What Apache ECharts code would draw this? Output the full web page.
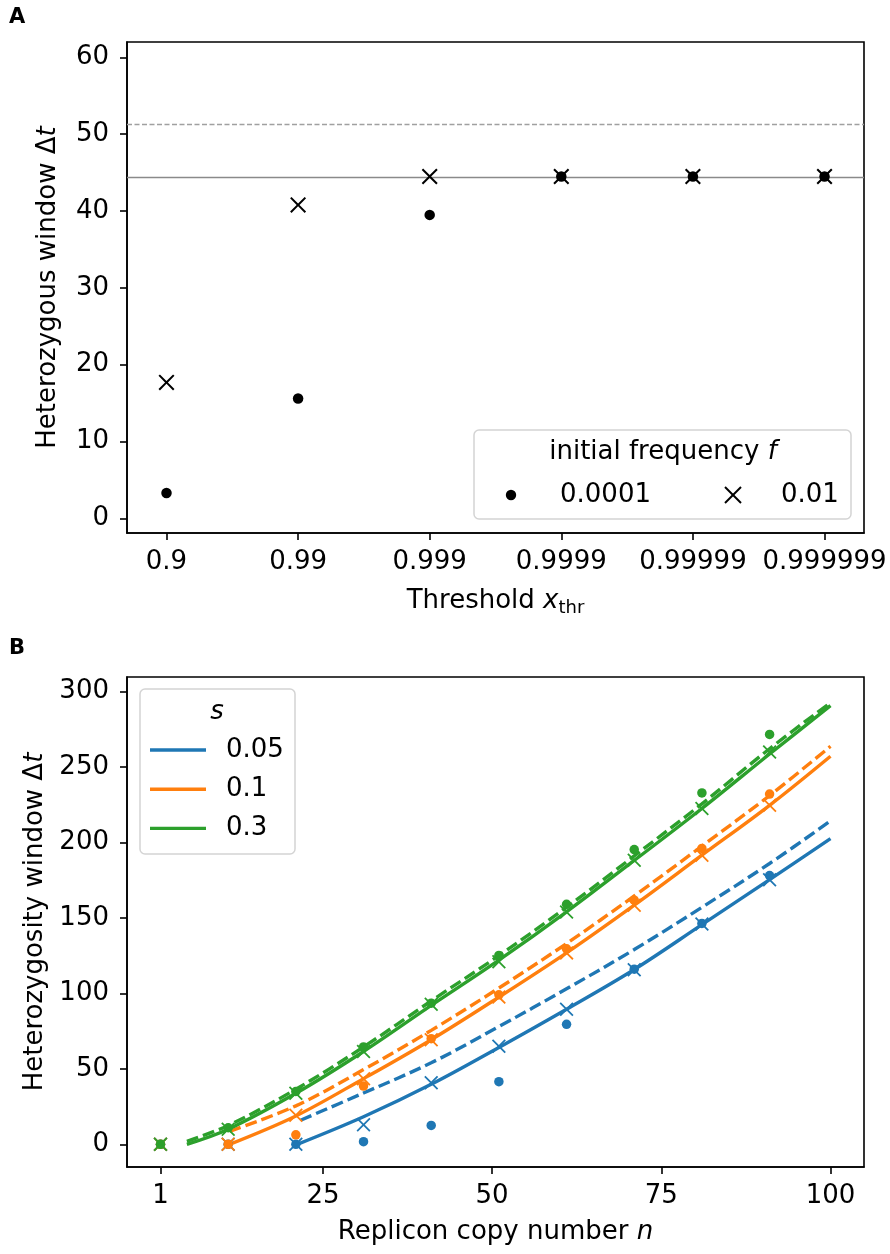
<!DOCTYPE html>
<html>
<head>
<meta charset="utf-8">
<script src="https://cdn.jsdelivr.net/npm/echarts@6/dist/echarts.min.js"></script>
<style>html,body{margin:0;padding:0;background:#fff}#c{width:890px;height:1254px}</style>
</head>
<body>
<div id="c"></div>
<script>
// ---------- Panel A data ----------
const thresholds = ['0.9', '0.99', '0.999', '0.9999', '0.99999', '0.999999'];
const windowF1e4 = [3.3, 15.6, 39.5, 44.5, 44.5, 44.5];   // f = 0.0001 (dots)
const windowF1e2 = [17.7, 40.8, 44.5, 44.5, 44.5, 44.5];  // f = 0.01 (crosses)
const refSolid = 44.45;
const refDashed = 51.25;
const yTicksA = [0, 10, 20, 30, 40, 50, 60];

// ---------- Panel B data ----------
const copyNumbers = [1, 11, 21, 31, 41, 51, 61, 71, 81, 91];
const sValues = ['0.05', '0.1', '0.3'];
const crossS005 = [0, 0, 0, 13.0, 40.8, 64.9, 89.5, 115.6, 146.0, 175.3];
const dotS005   = [0, 0, 0, 1.8, 12.5, 41.5, 79.5, 116.0, 146.3, 178.0];
const crossS01  = [0, 0, 19.2, 43.5, 69.3, 97.5, 126.8, 158.4, 191.5, 224.5];
const dotS01    = [0, 0, 6.3, 38.6, 70.0, 99.0, 129.5, 161.7, 196.0, 232.0];
const crossS03  = [0, 10.0, 33.8, 61.5, 92.8, 120.9, 153.9, 188.2, 222.4, 259.8];
const dotS03    = [0, 11.0, 35.0, 64.5, 93.5, 125.1, 159.0, 195.2, 232.7, 271.5];

// curve samples: [n, Δt]
const solidS005  = [[21.2, 0], [31, 18.3], [41, 39.8], [51, 64.2], [61, 89.5], [71, 115.8], [81, 145.5], [91, 175.3], [100, 202.5]];
const dashedS005 = [[21.7, 16], [31, 34], [41, 54], [51, 78], [61, 103], [71, 129], [81, 157], [91, 186], [100, 214.2]];
const solidS01   = [[11.2, 0], [21, 18.8], [31, 43.5], [41, 69.3], [51, 97.5], [61, 126.8], [71, 158.4], [81, 191.5], [91, 224.5], [100, 257]];
const dashedS01  = [[11.2, 8.6], [21, 25.5], [31, 49.5], [41, 75.5], [51, 103.5], [61, 133], [71, 164.5], [81, 197.5], [91, 231], [100, 263.6]];
const solidS03   = [[4.9, 0], [11, 10], [21, 33.8], [31, 61.5], [41, 92], [51, 122], [61, 154], [71, 188], [81, 222.4], [91, 258.5], [100, 290.5]];
const dashedS03  = [[4.9, 2], [11, 12.5], [21, 36.5], [31, 64.5], [41, 95], [51, 125], [61, 157], [71, 191], [81, 225.5], [91, 262], [100, 292.5]];
const xTicksB = [1, 25, 50, 75, 100];
const yTicksB = [0, 50, 100, 150, 200, 250, 300];

const colors = ['#1f77b4', '#ff7f0e', '#2ca02c'];
const FONT = 'DejaVu Sans';
const CROSS = 'path://M0,0.9L0.9,0L5,4.1L9.1,0L10,0.9L5.9,5L10,9.1L9.1,10L5,5.9L0.9,10L0,9.1L4.1,5Z';

const pair = (xs, ys) => xs.map((x, i) => [x, ys[i]]);

function axisCommon(fs) {
  return {
    splitLine: { show: false },
    axisLine: { show: true, onZero: false, lineStyle: { color: '#000', width: 1.6 } },
    axisTick: { show: true, length: 7, lineStyle: { color: '#000', width: 1.6 } },
    axisLabel: { color: '#000', fontSize: fs, fontFamily: FONT },
    nameTextStyle: { color: '#000', fontSize: 26, fontFamily: FONT }
  };
}

const nameRich = {
  n: { fontSize: 26, fontFamily: FONT, color: '#000' },
  i: { fontSize: 26, fontFamily: FONT, fontStyle: 'italic', color: '#000' },
  s: { fontSize: 18, fontFamily: FONT, color: '#000', padding: [14, 0, 0, 0] }
};

const xA = Object.assign(axisCommon(26), {
  gridIndex: 0, type: 'value', min: -0.3, max: 5.3,
  name: '{n|Threshold }{i|x}{s|thr}', nameLocation: 'middle', nameGap: 52,
  nameTextStyle: { rich: nameRich }
});
xA.axisTick.customValues = [0, 1, 2, 3, 4, 5];
xA.axisLabel.customValues = [0, 1, 2, 3, 4, 5];
xA.axisLabel.formatter = v => thresholds[Math.round(v)];
xA.axisLabel.margin = 16;

const yA = Object.assign(axisCommon(26), {
  gridIndex: 0, type: 'value', min: -1.9, max: 62,
  name: '{n|Heterozygous window Δ}{i|t}', nameLocation: 'middle', nameRotate: 90, nameGap: 66,
  nameTextStyle: { rich: nameRich }
});
yA.axisTick.customValues = yTicksA;
yA.axisLabel.customValues = yTicksA;
yA.axisLabel.margin = 18;

const xB = Object.assign(axisCommon(26), {
  gridIndex: 1, type: 'value', min: -3.95, max: 104.95,
  name: '{n|Replicon copy number }{i|n}', nameLocation: 'middle', nameGap: 52,
  nameTextStyle: { rich: nameRich }
});
xB.axisTick.customValues = xTicksB;
xB.axisLabel.customValues = xTicksB;
xB.axisLabel.margin = 16;

const yB = Object.assign(axisCommon(26), {
  gridIndex: 1, type: 'value', min: -15, max: 309.5,
  name: '{n|Heterozygosity window Δ}{i|t}', nameLocation: 'middle', nameRotate: 90, nameGap: 76,
  nameTextStyle: { rich: nameRich }
});
yB.axisTick.customValues = yTicksB;
yB.axisLabel.customValues = yTicksB;
yB.axisLabel.margin = 18;

const series = [];
// Panel A
series.push({
  type: 'line', xAxisIndex: 0, yAxisIndex: 0, data: [], silent: true,
  markLine: {
    symbol: 'none', silent: true, label: { show: false }, z: 1,
    data: [
      { yAxis: refSolid, lineStyle: { color: '#8a8a8a', width: 1.4, type: 'solid' } },
      { yAxis: refDashed, lineStyle: { color: '#a0a0a0', width: 1.4, type: [5, 2.5] } }
    ]
  }
});
series.push({
  type: 'scatter', xAxisIndex: 0, yAxisIndex: 0, z: 5,
  data: windowF1e4.map((v, i) => [i, v]), symbol: 'circle', symbolSize: 10.5,
  itemStyle: { color: '#000', opacity: 1 }
});
series.push({
  type: 'scatter', xAxisIndex: 0, yAxisIndex: 0, z: 6,
  data: windowF1e2.map((v, i) => [i, v]), symbol: CROSS, symbolSize: 16,
  itemStyle: { color: '#000', opacity: 1 }
});

// Panel B
const solids = [solidS005, solidS01, solidS03];
const dasheds = [dashedS005, dashedS01, dashedS03];
const crosses = [crossS005, crossS01, crossS03];
const dots = [dotS005, dotS01, dotS03];
for (let k = 0; k < 3; k++) {
  series.push({
    type: 'line', xAxisIndex: 1, yAxisIndex: 1, data: solids[k], smooth: 0.35,
    showSymbol: false, z: 2 + k,
    lineStyle: { color: colors[k], width: 3.4, cap: 'butt' }
  });
  series.push({
    type: 'line', xAxisIndex: 1, yAxisIndex: 1, data: dasheds[k], smooth: 0.35,
    showSymbol: false, z: 2 + k,
    lineStyle: { color: colors[k], width: 3.4, type: [12, 5], cap: 'butt' }
  });
}
for (let k = 0; k < 3; k++) {
  series.push({
    type: 'scatter', xAxisIndex: 1, yAxisIndex: 1, z: 10 + k,
    data: pair(copyNumbers, dots[k]), symbol: 'circle', symbolSize: 9.5,
    itemStyle: { color: colors[k], opacity: 1 }
  });
  series.push({
    type: 'scatter', xAxisIndex: 1, yAxisIndex: 1, z: 10 + k,
    data: pair(copyNumbers, crosses[k]), symbol: CROSS, symbolSize: 14,
    itemStyle: { color: colors[k], opacity: 1 }
  });
}

const txt = (x, y, text, extra) => ({
  type: 'text', x: x, y: y, z: 100,
  style: Object.assign({ text: text, fontSize: 26, fontFamily: FONT, fill: '#000', align: 'left', verticalAlign: 'middle' }, extra || {})
});

const graphic = [
  txt(9, 18, 'A', { fontSize: 21, fontWeight: 'bold' }),
  txt(9, 649, 'B', { fontSize: 21, fontWeight: 'bold' }),
  // legend A
  { type: 'rect', z: 90, shape: { x: 474, y: 430, width: 377, height: 89, r: 5 },
    style: { fill: 'rgba(255,255,255,0.8)', stroke: '#d4d4d4', lineWidth: 1.5 } },
  { type: 'text', x: 663, y: 452, z: 100, style: {
      text: '{n|initial frequency }{i|f}', align: 'center', verticalAlign: 'middle',
      rich: { n: { fontSize: 26, fontFamily: FONT, fill: '#000' }, i: { fontSize: 26, fontFamily: FONT, fontStyle: 'italic', fill: '#000' } } } },
  { type: 'circle', z: 100, shape: { cx: 511, cy: 495, r: 5.2 }, style: { fill: '#000' } },
  txt(560, 495, '0.0001'),
  { type: 'line', z: 100, shape: { x1: 725, y1: 487, x2: 741, y2: 503 }, style: { stroke: '#000', lineWidth: 2 } },
  { type: 'line', z: 100, shape: { x1: 741, y1: 487, x2: 725, y2: 503 }, style: { stroke: '#000', lineWidth: 2 } },
  txt(781, 495, '0.01'),
  // legend B
  { type: 'rect', z: 90, shape: { x: 140, y: 689, width: 155, height: 165, r: 5 },
    style: { fill: 'rgba(255,255,255,0.8)', stroke: '#d4d4d4', lineWidth: 1.5 } },
  txt(217, 712, 's', { align: 'center', fontStyle: 'italic' })
];
for (let k = 0; k < 3; k++) {
  const y = 750 + k * 39.2;
  graphic.push({ type: 'line', z: 100, shape: { x1: 150, y1: y, x2: 206, y2: y }, style: { stroke: colors[k], lineWidth: 3.4 } });
  graphic.push(txt(226, y, sValues[k]));
}

const chart = echarts.init(document.getElementById('c'), null, { renderer: 'canvas' });
chart.setOption({
  animation: false,
  backgroundColor: '#fff',
  grid: [
    { left: 127, top: 42, width: 737, height: 491, show: true, borderColor: '#000', borderWidth: 1.6, backgroundColor: 'transparent' },
    { left: 127, top: 677, width: 737, height: 490, show: true, borderColor: '#000', borderWidth: 1.6, backgroundColor: 'transparent' }
  ],
  xAxis: [xA, xB],
  yAxis: [yA, yB],
  series: series,
  graphic: graphic
});
</script>
</body>
</html>
